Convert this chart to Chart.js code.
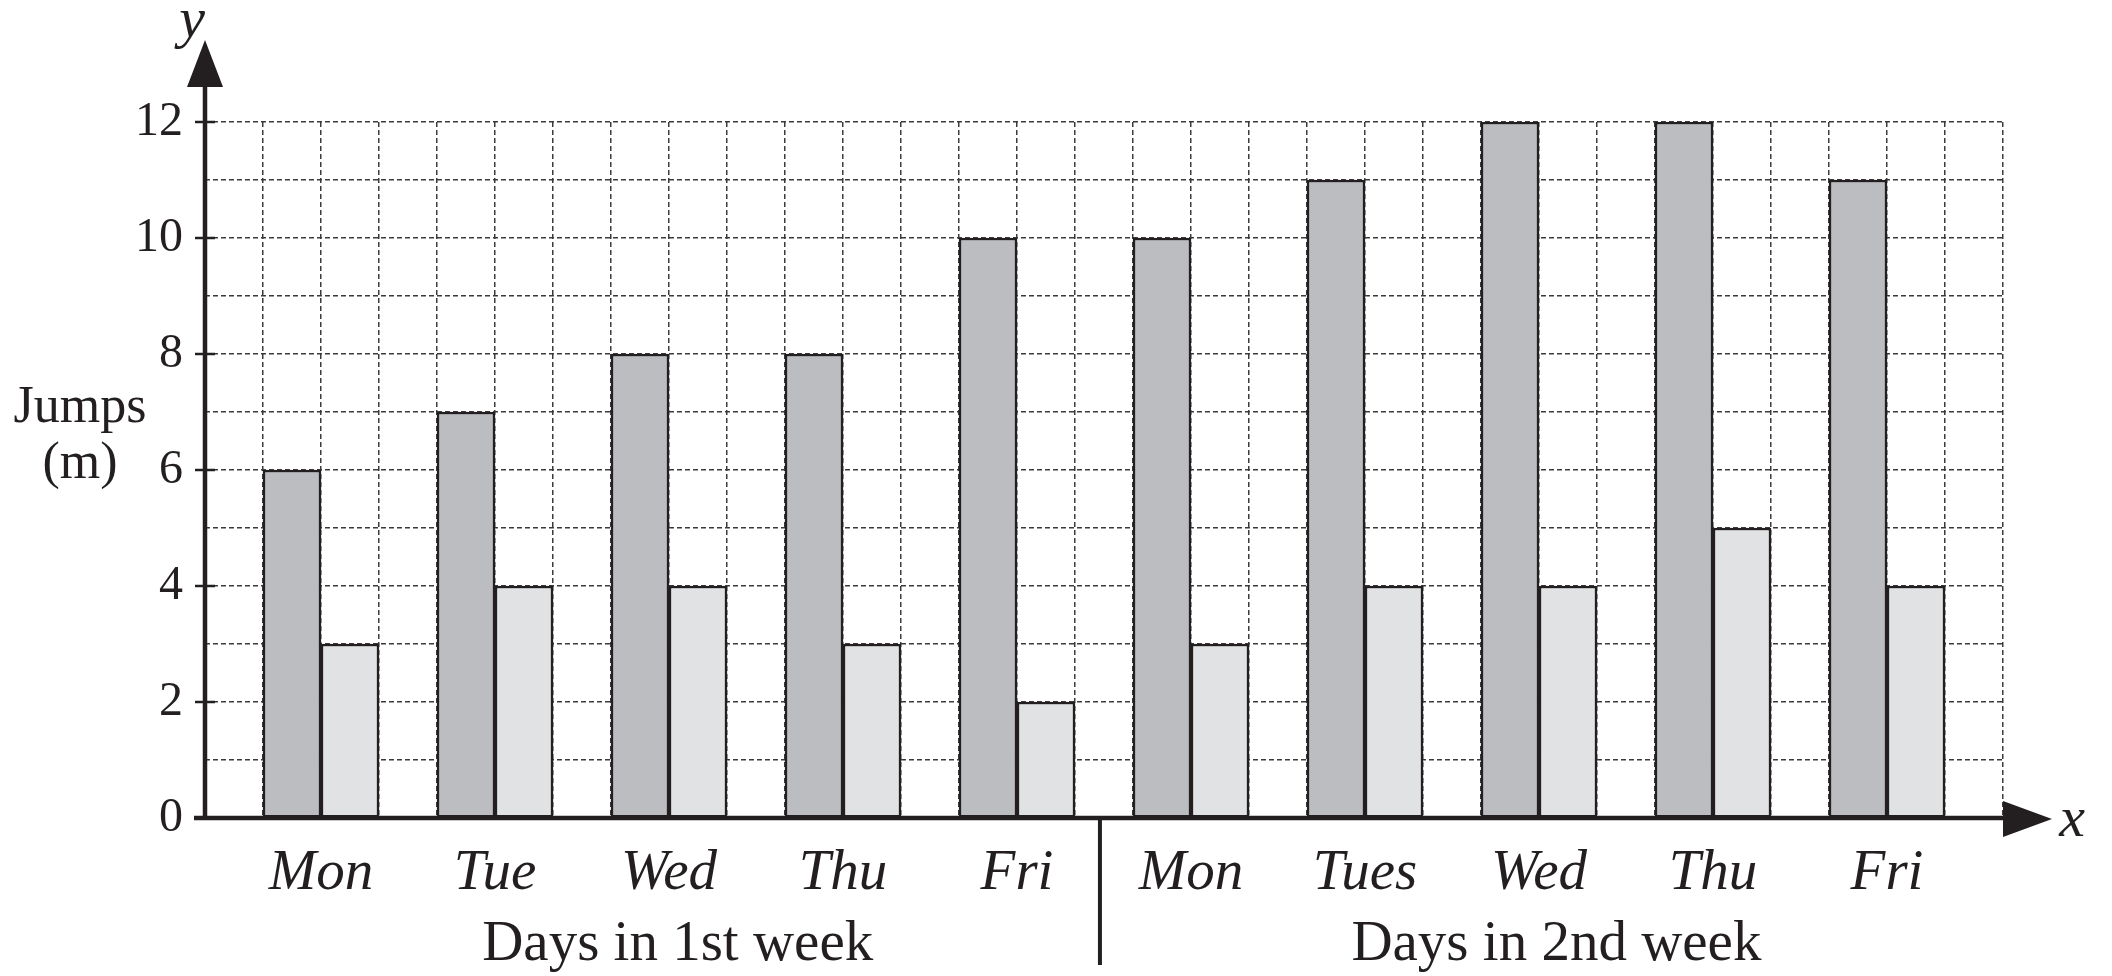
<!DOCTYPE html>
<html>
<head>
<meta charset="utf-8">
<title>Jumps per day</title>
<script src="https://cdn.jsdelivr.net/npm/chart.js@4.4.1/dist/chart.umd.min.js"></script>
<style>
    html, body { margin: 0; padding: 0; background: #fff; }
    #wrap { width: 2112px; height: 976px; position: relative; }
</style>
</head>
<body>
<div id="wrap"><canvas id="jumpChart"></canvas></div>
<script>
/* ===== DATA ===== */
const days = ['Mon', 'Tue', 'Wed', 'Thu', 'Fri', 'Mon', 'Tues', 'Wed', 'Thu', 'Fri'];
const weekTitles = ['Days in 1st week', 'Days in 2nd week'];
const darkJumps = [6, 7, 8, 8, 10, 10, 11, 12, 12, 11];
const lightJumps = [3, 4, 4, 3, 2, 3, 4, 4, 5, 4];
const yTicks = [0, 2, 4, 6, 8, 10, 12];

/* ===== LAYOUT CONSTANTS ===== */
const COLS_PER_DAY = 3;                          // empty column, dark bar, light bar
const TOTAL_COLS = days.length * COLS_PER_DAY + 1;
const WEEK_TITLE_AT = [8.15, 23.3];              // column units
const WEEK_SPLIT_AT = 15.43;
const INK = '#231f20';
const GRID = '#3c3a3b';
const SERIF = "'Liberation Serif', 'DejaVu Serif', serif";

/* ===== HELPERS ===== */

/**
 * Turn a series into {x, y} points, one grid column per bar
 */
function barPoints(values, offset) {
    return values.map((v, i) => ({ x: i * COLS_PER_DAY + offset, y: v }));
}

/**
 * Day name for the tick under the middle of each pair of bars
 */
function dayAt(value) {
    const i = (value - 2) / COLS_PER_DAY;
    return Number.isInteger(i) && days[i] ? days[i] : '';
}

function arrow(ctx, tipX, tipY, baseX, baseY, half, vertical) {
    ctx.beginPath();
    ctx.moveTo(tipX, tipY);
    if (vertical) {
        ctx.lineTo(baseX - half, baseY);
        ctx.lineTo(baseX + half, baseY);
    } else {
        ctx.lineTo(baseX, baseY - half);
        ctx.lineTo(baseX, baseY + half);
    }
    ctx.closePath();
    ctx.fill();
}

/* ===== AXES, ARROWS AND TITLES ===== */
const axesPlugin = {
    id: 'axesPlugin',
    afterDraw(chart) {
        const { ctx, chartArea, scales: { x, y } } = chart;
        const x0 = x.getPixelForValue(0);
        const y0 = y.getPixelForValue(0);

        ctx.save();
        ctx.strokeStyle = INK;
        ctx.fillStyle = INK;

        // solid tick marks crossing the y axis
        ctx.lineWidth = 2.5;
        yTicks.forEach(v => {
            const py = y.getPixelForValue(v);
            ctx.beginPath();
            ctx.moveTo(x0 - 10, py);
            ctx.lineTo(x0 + 10, py);
            ctx.stroke();
        });

        // y axis with arrow
        ctx.lineWidth = 4.5;
        ctx.beginPath();
        ctx.moveTo(x0, y0 + 2);
        ctx.lineTo(x0, chartArea.top - 36);
        ctx.stroke();
        arrow(ctx, x0, chartArea.top - 82, x0, chartArea.top - 35, 18, true);

        // x axis with arrow
        ctx.beginPath();
        ctx.moveTo(x0 - 11, y0);
        ctx.lineTo(chartArea.right + 1, y0);
        ctx.stroke();
        arrow(ctx, chartArea.right + 49, y0 + 1, chartArea.right, y0 + 1, 18, false);

        // line between the two weeks
        const sx = x.getPixelForValue(WEEK_SPLIT_AT);
        ctx.lineWidth = 4;
        ctx.beginPath();
        ctx.moveTo(sx, y0);
        ctx.lineTo(sx, y0 + 147);
        ctx.stroke();

        // axis letters
        ctx.font = 'italic 58px ' + SERIF;
        ctx.textAlign = 'center';
        ctx.textBaseline = 'alphabetic';
        ctx.fillText('y', x0 - 13, 37);
        ctx.fillText('x', chartArea.right + 69, y0 + 18);

        // y axis title, written upright
        ctx.font = '52px ' + SERIF;
        ctx.fillText('Jumps', 80, 422);
        ctx.fillText('(m)', 80, 478);

        // week titles
        ctx.font = '57px ' + SERIF;
        weekTitles.forEach((t, i) => {
            ctx.fillText(t, x.getPixelForValue(WEEK_TITLE_AT[i]), 960);
        });

        ctx.restore();
    }
};

/* ===== CHART ===== */
const barStyle = {
    borderColor: INK,
    borderWidth: 2.5,
    borderSkipped: false,
    grouped: false,
    barPercentage: 1,
    categoryPercentage: 1
};

new Chart(document.getElementById('jumpChart').getContext('2d'), {
    type: 'bar',
    data: {
        datasets: [
            Object.assign({ label: 'Dark', data: barPoints(darkJumps, 1.5), backgroundColor: '#bcbdc1' }, barStyle),
            Object.assign({ label: 'Light', data: barPoints(lightJumps, 2.5), backgroundColor: '#e1e2e4' }, barStyle)
        ]
    },
    options: {
        responsive: true,
        maintainAspectRatio: false,
        animation: false,
        layout: { padding: { top: 122, right: 109, left: 0, bottom: 0 } },
        plugins: {
            legend: { display: false },
            tooltip: { enabled: false }
        },
        scales: {
            x: {
                type: 'linear',
                min: 0,
                max: TOTAL_COLS,
                offset: false,
                grid: { offset: false, color: GRID, lineWidth: 1.5, drawTicks: false },
                border: { display: false, dash: [5, 3] },
                ticks: {
                    stepSize: 1,
                    maxTicksLimit: 100,
                    autoSkip: false,
                    maxRotation: 0,
                    padding: 28,
                    color: INK,
                    font: { family: SERIF, size: 57, style: 'italic', lineHeight: 1 },
                    callback: v => dayAt(v)
                },
                afterFit: s => { s.height = 158; }
            },
            y: {
                min: 0,
                max: 12,
                grid: { color: GRID, lineWidth: 1.5, tickLength: 10, tickColor: 'transparent' },
                border: { display: false, dash: [5, 3] },
                ticks: {
                    stepSize: 1,
                    maxTicksLimit: 100,
                    autoSkip: false,
                    padding: 12,
                    color: INK,
                    font: { family: SERIF, size: 48 },
                    callback: v => yTicks.includes(v) ? String(v) : ''
                },
                afterFit: s => { s.width = 205; }
            }
        }
    },
    plugins: [axesPlugin]
});
</script>
</body>
</html>
